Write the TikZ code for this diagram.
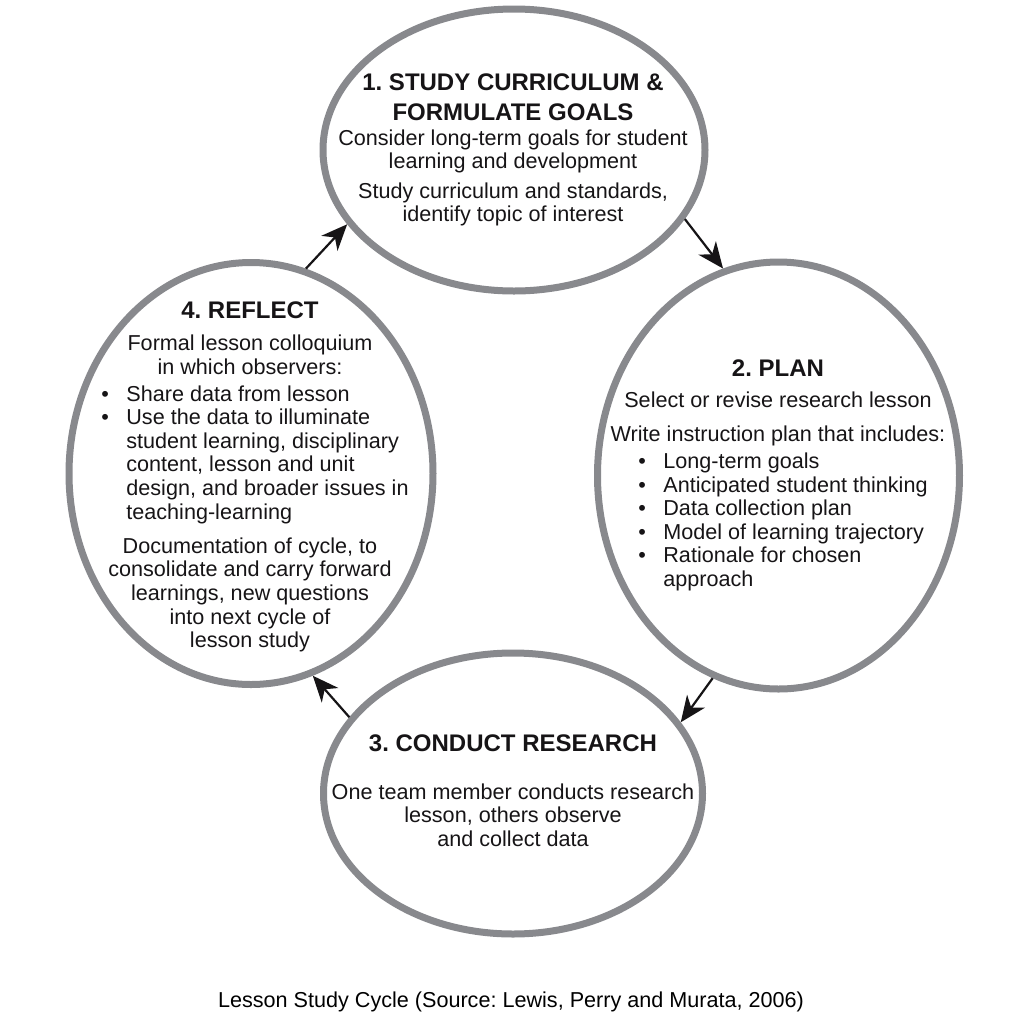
\documentclass[tikz,border=0pt]{standalone}
\usepackage{fontspec}
\setmainfont{Liberation Sans}
\usetikzlibrary{shapes.geometric, arrows.meta}
\definecolor{ringgray}{RGB}{136,137,141}
\definecolor{inkdark}{RGB}{22,20,22}
\newcommand{\bul}{\makebox[12.5pt][l]{\textbullet}}
\frenchspacing

\begin{document}
\begin{tikzpicture}[x=0.5pt, y=-0.5pt,
  ring/.style={draw=ringgray, line width=3.5pt, ellipse, inner sep=0pt},
  head/.style={text=inkdark, font=\fontsize{12}{15}\selectfont\bfseries, align=center, inner sep=0pt},
  body/.style={text=inkdark, font=\fontsize{10.8}{11.8}\selectfont, align=center, inner sep=0pt},
  list/.style={body, align=left, anchor=west},
  cyc/.style={-{Stealth[length=13pt, width=11pt, inset=4pt]}, line width=1.1pt, draw=inkdark}]
\useasboundingbox (0,0) rectangle (1021,1024);

\node[ring, minimum width=191pt, minimum height=141pt] (study) at (514,150) {};
\node[ring, minimum width=181pt, minimum height=213.5pt] (plan) at (778.5,475.5) {};
\node[ring, minimum width=189.5pt, minimum height=140.5pt] (research) at (513,793.5) {};
\node[ring, minimum width=182pt, minimum height=211pt] (reflect) at (251,473.5) {};

\node[head] (studyHead) at (513,97) {1. STUDY CURRICULUM \&\\FORMULATE GOALS};
\node[body] (studyBody) at (513,178) {Consider long-term goals for student\\learning and development\\[3pt]
  Study curriculum and standards,\\identify topic of interest};

\node[head] (planHead) at (778,368) {2. PLAN};
\node[body] (planBody) at (778,419) {Select or revise research lesson\\[5pt]Write instruction plan that includes:};
\node[list] (planList) at (638,522) {\bul Long-term goals\\\bul Anticipated student thinking\\
  \bul Data collection plan\\\bul Model of learning trajectory\\
  \bul Rationale for chosen\\\hspace*{12.5pt}approach};

\node[head] (researchHead) at (513,743) {3. CONDUCT RESEARCH};
\node[body] (researchBody) at (513,815) {One team member conducts research\\lesson, others observe\\and collect data};

\node[head] (reflectHead) at (250,310) {4. REFLECT};
\node[body] (reflectIntro) at (250,355) {Formal lesson colloquium\\in which observers:};
\node[list] (reflectList) at (101,454.5) {\bul Share data from lesson\\\bul Use the data to illuminate\\
  \hspace*{12.5pt}student learning, disciplinary\\\hspace*{12.5pt}content, lesson and unit\\
  \hspace*{12.5pt}design, and broader issues in\\\hspace*{12.5pt}teaching-learning};
\node[body] (reflectBody) at (250,595) {Documentation of cycle, to\\consolidate and carry forward\\
  learnings, new questions\\into next cycle of\\lesson study};

\draw[cyc] (reflect.75) -- (study.204);
\draw[cyc] (study.338) -- (plan.105);
\draw[cyc] (plan.252) -- (research.23);
\draw[cyc] (research.155) -- (reflect.287);

\node[body, text=black] (caption) at (511,1002) {Lesson Study Cycle (Source: Lewis, Perry and Murata, 2006)};
\end{tikzpicture}
\end{document}
